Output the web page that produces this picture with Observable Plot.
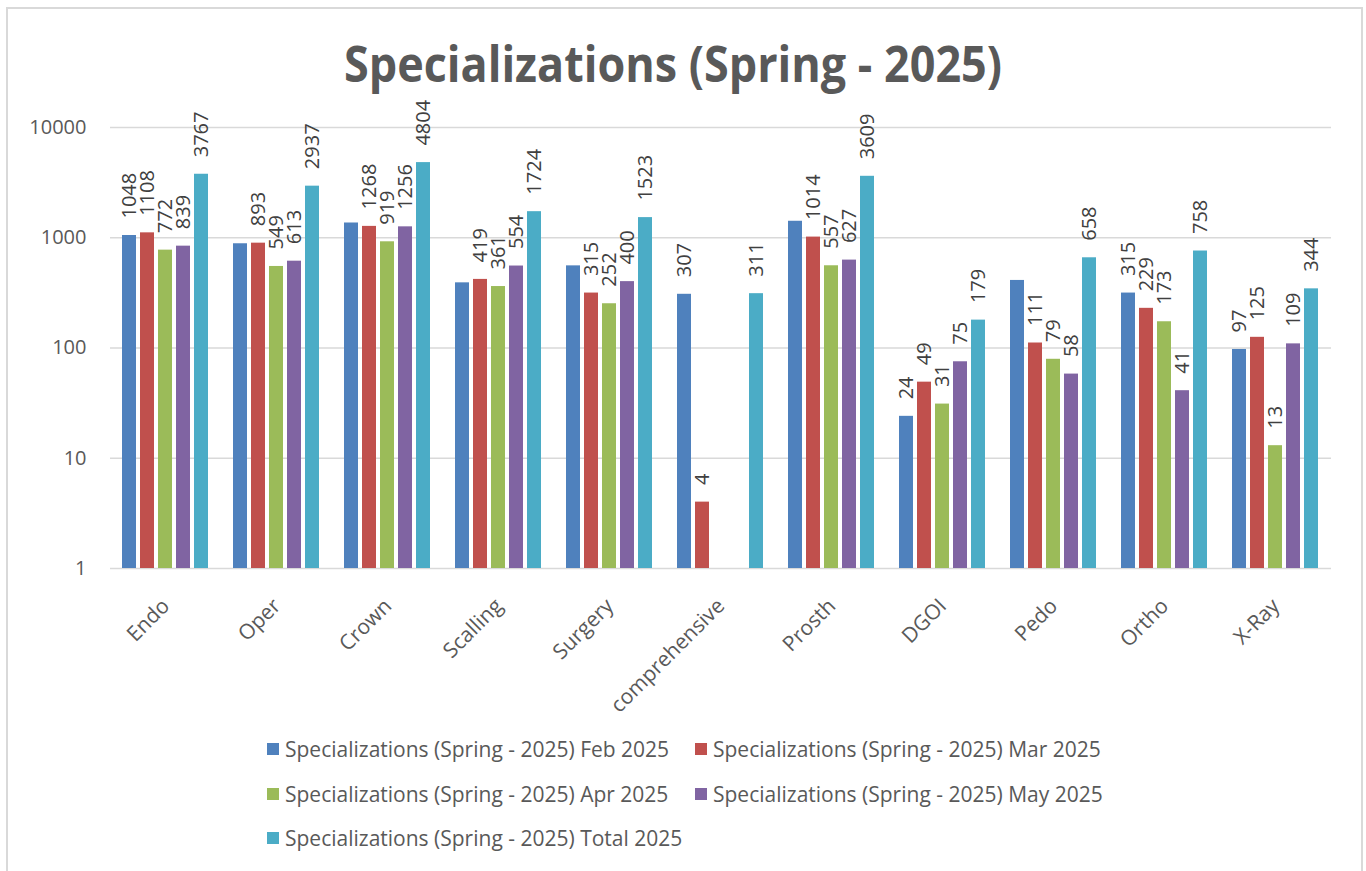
<!DOCTYPE html>
<html><head><meta charset="utf-8">
<script src="https://cdn.jsdelivr.net/npm/d3@7"></script>
<script src="https://cdn.jsdelivr.net/npm/@observablehq/plot@0.6"></script>
<style>
body{margin:0;background:#fff;font-family:"Open Sans",sans-serif;width:1366px;height:871px;overflow:hidden;position:relative;}
#frame{position:absolute;left:6px;top:7px;width:1357px;height:900px;border:2px solid #d9d9d9;box-sizing:border-box;}
#title{position:absolute;left:0;top:0;}
#chart{position:absolute;left:0;top:100px;}
#legend{position:absolute;left:0;top:0;width:1366px;height:871px;pointer-events:none;}
.li{position:absolute;display:flex;align-items:center;font-size:21px;color:#595959;white-space:nowrap;}
.sw{width:12px;height:12px;margin-right:6px;}
</style></head><body>
<div id="frame"></div>
<svg id="title" width="1366" height="100"><text x="673" y="82" text-anchor="middle" font-family="Open Sans" font-weight="bold" font-size="50" fill="#595959" textLength="658" lengthAdjust="spacingAndGlyphs">Specializations (Spring - 2025)</text></svg>
<div id="chart"></div>
<div id="legend"></div>
<script>
const categories = ["Endo","Oper","Crown","Scalling","Surgery","comprehensive","Prosth","DGOI","Pedo","Ortho","X-Ray"];
const seriesNames = ["Feb 2025","Mar 2025","Apr 2025","May 2025","Total 2025"];
const seriesColors = ["#4F81BD","#C0504D","#9BBB59","#8064A2","#4BACC6"];
const feb   = [1048, 882, 1361, 390, 556, 307, 1411, 24, 410, 315, 97];
const mar   = [1108, 893, 1268, 419, 315, 4, 1014, 49, 111, 229, 125];
const apr   = [772, 549, 919, 361, 252, null, 557, 31, 79, 173, 13];
const may   = [839, 613, 1256, 554, 400, null, 627, 75, 58, 41, 109];
const total = [3767, 2937, 4804, 1724, 1523, 311, 3609, 179, 658, 758, 344];
const febLabelShown = [true, false, false, false, false, true, false, true, false, true, true];
const yTicks = [1, 10, 100, 1000, 10000];
const legendPrefix = "Specializations (Spring - 2025) ";

const seriesValues = [feb, mar, apr, may, total];
const rows = [];
categories.forEach((c, i) => {
  seriesNames.forEach((s, j) => {
    const v = seriesValues[j][i];
    if (v != null) rows.push({category: c, series: s, value: v, label: (j === 0 && !febLabelShown[i]) ? null : String(v)});
  });
});

const chart = Plot.plot({
  width: 1366, height: 610,
  marginLeft: 108, marginRight: 33, marginTop: 27, marginBottom: 142,
  style: {fontFamily: "Open Sans", fontSize: "20px", color: "#595959", background: "transparent", overflow: "visible"},
  fx: {domain: categories, paddingInner: 0, paddingOuter: 0, label: null},
  x: {domain: seriesNames, paddingInner: 0.2, paddingOuter: 0.55, axis: null},
  y: {type: "log", domain: [1, 10000], label: null},
  color: {domain: seriesNames, range: seriesColors},
  marks: [
    Plot.ruleY(yTicks, {stroke: "#d9d9d9", strokeWidth: 1.5}),
    Plot.barY(rows, {fx: "category", x: "series", y1: 1, y2: "value", fill: "series"}),
    Plot.text(rows.filter(d => d.label), {fx: "category", x: "series", y: "value", text: "label", rotate: -90, textAnchor: "start", dy: -17, fill: "#404040", fontSize: 20}),
    Plot.axisY(yTicks, {tickSize: 0, tickPadding: 24, tickFormat: d => String(d), fontSize: 20, fill: "#595959", label: null}),
    Plot.axisFx({anchor: "bottom", tickRotate: -45, tickSize: 0, tickPadding: 34, fontSize: 21, fill: "#595959", label: null})
  ]
});
document.getElementById("chart").appendChild(chart);

const legend = document.getElementById("legend");
const legendPos = [[267, 750], [695, 750], [267, 795], [695, 795], [267, 839]];
seriesNames.forEach((s, j) => {
  const el = document.createElement("div");
  el.className = "li";
  el.style.left = legendPos[j][0] + "px";
  el.style.top = (legendPos[j][1] - 15) + "px";
  el.innerHTML = `<span class="sw" style="background:${seriesColors[j]}"></span><span>${legendPrefix}${s}</span>`;
  legend.appendChild(el);
});
</script>
</body></html>
